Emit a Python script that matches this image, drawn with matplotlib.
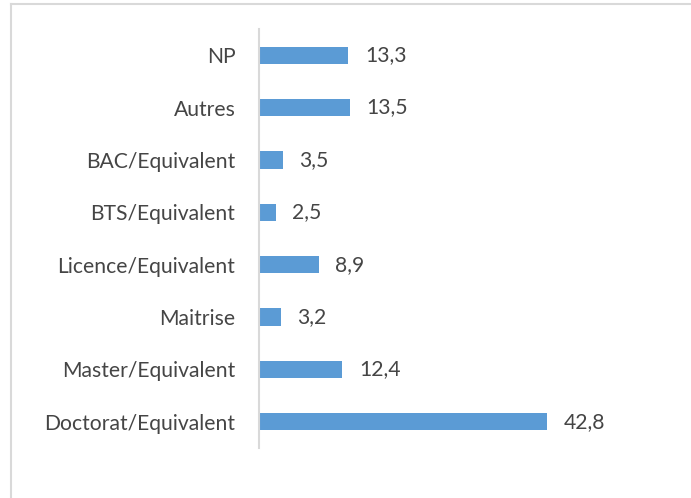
import matplotlib
matplotlib.use("Agg")
import matplotlib.pyplot as plt
from matplotlib.lines import Line2D

categories = ["NP", "Autres", "BAC/Equivalent", "BTS/Equivalent",
              "Licence/Equivalent", "Maitrise", "Master/Equivalent",
              "Doctorat/Equivalent"]
values = [13.3, 13.5, 3.5, 2.5, 8.9, 3.2, 12.4, 42.8]
value_labels = ["13,3", "13,5", "3,5", "2,5", "8,9", "3,2", "12,4", "42,8"]

W, H = 691, 498
fig = plt.figure(figsize=(W / 100, H / 100), dpi=100)
fig.patch.set_facecolor("white")

# outer chart border (top and left visible, cropped on right/bottom)
border = "#d9d9d9"
fig.add_artist(Line2D([11 / W, 1.0], [1 - 4 / H, 1 - 4 / H], color=border, lw=1.5,
                      transform=fig.transFigure))
fig.add_artist(Line2D([11 / W, 11 / W], [0.0, 1 - 4 / H], color=border, lw=1.5,
                      transform=fig.transFigure))

ax = fig.add_axes([259 / W, (H - 448) / H, 336 / W, 419 / H])
ypos = list(range(len(categories)))
ax.barh(ypos, values, height=0.33, color="#5B9BD5")
ax.set_xlim(0, 50)
ax.set_ylim(len(categories) - 0.5, -0.5)
ax.set_yticks(ypos)
ax.set_yticklabels(categories, fontsize=15.2, color="#454545", family="Lato")
ax.tick_params(axis="y", length=0, pad=17)
ax.set_xticks([])
for s in ["top", "right", "bottom"]:
    ax.spines[s].set_visible(False)
ax.spines["left"].set_color(border)
ax.spines["left"].set_linewidth(1.5)
ax.patch.set_alpha(0)

for y, v, lab in zip(ypos, values, value_labels):
    ax.annotate(lab, (v, y), xytext=(12, 0), textcoords="offset points",
                va="center", ha="left", fontsize=15.2, color="#454545", family="Lato")

fig.savefig("out.png", dpi=100)
